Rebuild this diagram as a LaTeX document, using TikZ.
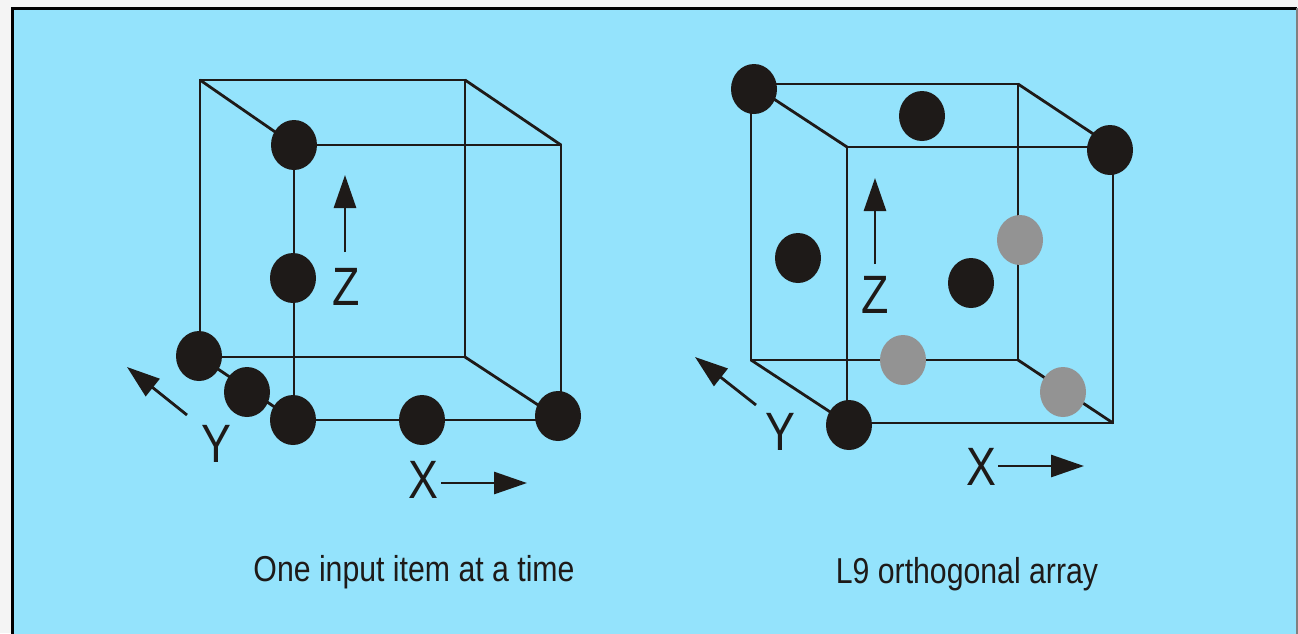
\documentclass[tikz,border=0pt]{standalone}
\usepackage{fontspec}
\setmainfont{Liberation Sans}
\usetikzlibrary{arrows.meta,shapes.geometric}
\definecolor{bgblue}{RGB}{148,227,252}
\definecolor{outer}{RGB}{244,244,244}
\definecolor{ink}{RGB}{30,26,24}
\definecolor{dotgray}{RGB}{147,147,147}
\tikzset{
  edge/.style={draw=ink,line width=2.8pt},
  blackdot/.style={ellipse,fill=ink,minimum width=46pt,minimum height=50pt,inner sep=0pt},
  graydot/.style={ellipse,fill=dotgray,minimum width=46pt,minimum height=50pt,inner sep=0pt},
  axisarrow/.style={draw=ink,line width=2.8pt,-{Triangle[length=33pt,width=22pt]}},
  axislabel/.style={text=ink,font=\fontsize{54}{60}\selectfont,xscale=0.83,inner sep=0pt},
  caption/.style={text=ink,font=\fontsize{36}{40}\selectfont,xscale=0.84,inner sep=0pt,anchor=base}
}
\begin{document}
\begin{tikzpicture}[x=1pt,y=-1pt]
\useasboundingbox (0,0) rectangle (1298,633);
\fill[outer] (0,0) rectangle (1298,633);
\fill[bgblue] (12,8) rectangle (1298,640);
\draw[black,line width=3pt] (12,640) -- (12,8) -- (1297,8);
\draw[gray,line width=1.5pt] (1297,8) -- (1297,640);

% ---------- left cube ----------
\coordinate (LBTL) at (200,80);
\coordinate (LBTR) at (465,80);
\coordinate (LBBR) at (465,357);
\coordinate (LBBL) at (200,357);
\coordinate (LFTL) at (294,145);
\coordinate (LFTR) at (561,145);
\coordinate (LFBR) at (561,420);
\coordinate (LFBL) at (294,420);
\draw[edge] (LBTL) -- (LBTR) -- (LBBR) -- (LBBL) -- cycle;
\draw[edge] (LFTL) -- (LFTR) -- (LFBR) -- (LFBL) -- cycle;
\draw[edge] (LBTL) -- (LFTL);
\draw[edge] (LBTR) -- (LFTR);
\draw[edge] (LBBR) -- (LFBR);
\draw[edge] (LBBL) -- (LFBL);

\node[blackdot] (l1) at (294,145) {};
\node[blackdot] (l2) at (293,278) {};
\node[blackdot] (l3) at (199,356) {};
\node[blackdot] (l4) at (247,392) {};
\node[blackdot] (l5) at (293,420) {};
\node[blackdot] (l6) at (422,420) {};
\node[blackdot] (l7) at (558,416) {};

\coordinate (LZa) at (345,252);
\coordinate (LZb) at (345,175);
\draw[axisarrow] (LZa) -- (LZb);
\node[axislabel] (LZ) at (346,287) {Z};
\coordinate (LYa) at (187,415);
\coordinate (LYb) at (127,367);
\draw[axisarrow] (LYa) -- (LYb);
\node[axislabel] (LY) at (216,444) {Y};
\coordinate (LXa) at (441,483);
\coordinate (LXb) at (527,483);
\draw[axisarrow] (LXa) -- (LXb);
\node[axislabel] (LX) at (423,480) {X};
\node[caption] (cap1) at (414,581) {One input item at a time};

% ---------- right cube ----------
\coordinate (RBTL) at (751,84);
\coordinate (RBTR) at (1018,84);
\coordinate (RBBR) at (1018,360);
\coordinate (RBBL) at (751,360);
\coordinate (RFTL) at (847,147);
\coordinate (RFTR) at (1113,147);
\coordinate (RFBR) at (1113,423);
\coordinate (RFBL) at (847,423);
\draw[edge] (RBTL) -- (RBTR) -- (RBBR) -- (RBBL) -- cycle;
\draw[edge] (RFTL) -- (RFTR) -- (RFBR) -- (RFBL) -- cycle;
\draw[edge] (RBTL) -- (RFTL);
\draw[edge] (RBTR) -- (RFTR);
\draw[edge] (RBBR) -- (RFBR);
\draw[edge] (RBBL) -- (RFBL);

\node[blackdot] (r1) at (754,89) {};
\node[blackdot] (r2) at (922,116) {};
\node[blackdot] (r3) at (1110,150) {};
\node[blackdot] (r4) at (798,258) {};
\node[blackdot] (r5) at (971,283) {};
\node[blackdot] (r6) at (849,425) {};
\node[graydot] (r7) at (1020,240) {};
\node[graydot] (r8) at (903,360) {};
\node[graydot] (r9) at (1063,392) {};

\coordinate (RZa) at (875,264);
\coordinate (RZb) at (875,178);
\draw[axisarrow] (RZa) -- (RZb);
\node[axislabel] (RZ) at (875,295) {Z};
\coordinate (RYa) at (756,405);
\coordinate (RYb) at (695,357);
\draw[axisarrow] (RYa) -- (RYb);
\node[axislabel] (RY) at (780,432) {Y};
\coordinate (RXa) at (998,466);
\coordinate (RXb) at (1084,466);
\draw[axisarrow] (RXa) -- (RXb);
\node[axislabel] (RX) at (981,467) {X};
\node[caption] (cap2) at (967,583) {L9 orthogonal array};
\end{tikzpicture}
\end{document}
